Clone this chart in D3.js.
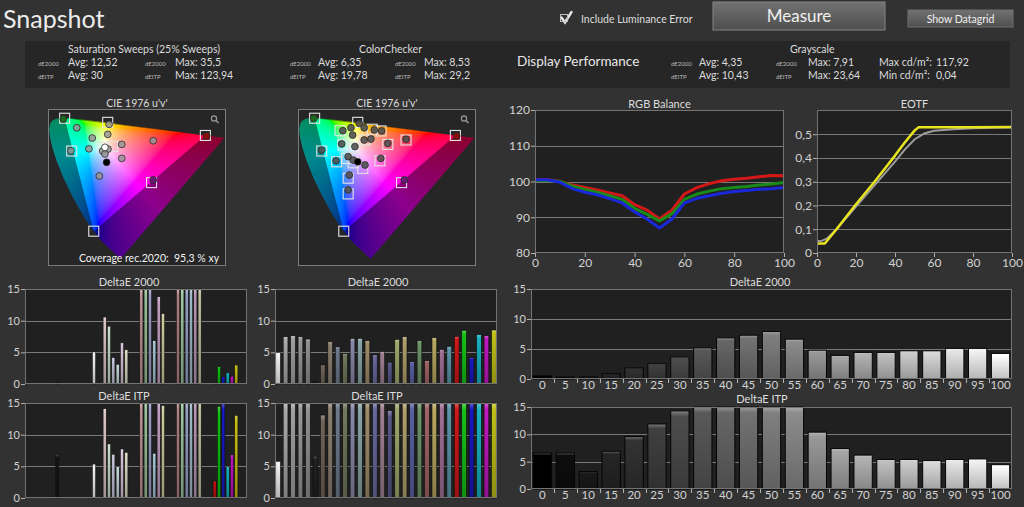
<!DOCTYPE html>
<html><head><meta charset="utf-8">
<script src="https://cdn.jsdelivr.net/npm/d3@7"></script>
<style>
html,body{margin:0;padding:0;background:#323232;overflow:hidden}
svg{display:block}
</style></head><body>
<svg id="c" width="1024" height="507"></svg>
<script>
// ---------------- DATA ----------------
const satStats = ["12,52", "35,5", "30", "123,94"];
const ccStats = ["6,35", "8,53", "19,78", "29,2"];
const grayStats = ["4,35", "7,91", "10,43", "23,64", "117,92", "0,04"];

// spectral locus CIE1931 xy [nm, x, y]
const locus = [[380,0.1741,0.0050],[390,0.1738,0.0049],[400,0.1733,0.0048],[410,0.1726,0.0048],[420,0.1714,0.0051],[425,0.1703,0.0058],[430,0.1689,0.0069],[435,0.1669,0.0086],[440,0.1644,0.0109],[445,0.1611,0.0138],[450,0.1566,0.0177],[455,0.1510,0.0227],[460,0.1440,0.0297],[465,0.1355,0.0399],[470,0.1241,0.0578],[475,0.1096,0.0868],[480,0.0913,0.1327],[485,0.0687,0.2007],[490,0.0454,0.2950],[495,0.0235,0.4127],[500,0.0082,0.5384],[505,0.0039,0.6548],[510,0.0139,0.7502],[515,0.0389,0.8120],[520,0.0743,0.8338],[525,0.1142,0.8262],[530,0.1547,0.8059],[535,0.1929,0.7816],[540,0.2296,0.7543],[545,0.2658,0.7243],[550,0.3016,0.6923],[555,0.3373,0.6589],[560,0.3731,0.6245],[565,0.4087,0.5896],[570,0.4441,0.5547],[575,0.4788,0.5202],[580,0.5125,0.4866],[585,0.5448,0.4544],[590,0.5752,0.4242],[595,0.6029,0.3965],[600,0.6270,0.3725],[605,0.6482,0.3514],[610,0.6658,0.3340],[620,0.6915,0.3083],[630,0.7079,0.2920],[640,0.7190,0.2809],[660,0.7300,0.2700],[700,0.7347,0.2653]];
const rec2020U = [0.5566, 0.0556, 0.1593];
const rec2020V = [0.5165, 0.5868, 0.1258];

// Saturation sweep chromaticity (u'v')
const satTargetU = [0.0556, 0.209, 0.081, 0.193, 0.227, 0.5566, 0.365, 0.1593];
const satTargetV = [0.5868, 0.570, 0.453, 0.468, 0.471, 0.5165, 0.324, 0.1258];
const satMeasU = [0.051,0.099,0.214,0.209,0.154,0.142,0.078,0.191,0.210,0.199,0.259,0.259,0.205,0.179,0.371,0.561,0.371,0.199];
const satMeasV = [0.584,0.548,0.562,0.521,0.506,0.462,0.454,0.453,0.461,0.441,0.480,0.423,0.407,0.351,0.495,0.514,0.335,0.468];
const satMeasKind = ["green","gray","gray","gray","gray","gray","gray","gray","gray","gray","gray","gray","black","gray","gray","red","magenta","white"];

// ColorChecker chromaticity (u'v')
const ccTargetU = [0.0556,0.209,0.146,0.261,0.292,0.156,0.235,0.316,0.381,0.5566,0.081,0.134,0.170,0.193,0.227,0.288,0.175,0.175,0.365,0.1593,0.197];
const ccTargetV = [0.5868,0.570,0.536,0.542,0.535,0.478,0.498,0.480,0.498,0.5165,0.453,0.409,0.423,0.405,0.382,0.413,0.342,0.278,0.324,0.1258,0.467];
const ccMeasU = [0.053,0.214,0.156,0.185,0.232,0.268,0.294,0.191,0.232,0.256,0.152,0.199,0.316,0.381,0.561,0.081,0.132,0.175,0.193,0.209,0.235,0.291,0.179,0.175,0.375];
const ccMeasV = [0.587,0.566,0.536,0.548,0.548,0.539,0.535,0.518,0.498,0.502,0.482,0.471,0.484,0.501,0.514,0.457,0.413,0.430,0.416,0.409,0.396,0.423,0.355,0.294,0.335];
const ccMeasKind = ["green","gray","gray","gray","gray","gray","gray","gray","gray","gray","gray","gray","gray","gray","red","gray","gray","gray","gray","black","gray","gray","gray","gray","magenta"];

// RGB balance
const rgbX = [0,5,10,15,20,25,30,35,40,45,50,55,60,65,70,75,80,85,90,95,100];
const rgbRed   = [100.5,100.5,100,99,98.3,97.6,96.8,96,93.5,92,89.5,92,96.5,98.3,99.4,100.2,100.6,100.9,101.3,101.7,101.6];
const rgbGreen = [100.3,100.3,100,98.7,97.8,97,96,95,92.5,90.8,89,91,95,96.5,97.3,98,98.3,98.6,99,99.3,99.7];
const rgbBlue  = [100.5,100.5,99.8,98,97,96.3,95.2,94,91.5,89.5,87,89.5,94,95.3,96,96.7,97.2,97.5,97.8,98,98.3];

// EOTF
const eotfTargetX = [0,2,5,10,20,30,40,45,50,55,60,70,80,90,100];
const eotfTarget  = [0.05,0.05,0.06,0.10,0.195,0.29,0.385,0.435,0.478,0.503,0.515,0.521,0.525,0.527,0.528];
const eotfMeasX = [0,4,10,20,30,40,45,50,52,60,80,100];
const eotfMeas  = [0.04,0.04,0.10,0.205,0.305,0.41,0.465,0.515,0.529,0.529,0.529,0.53];

// Saturation sweep bars
const satGroups = ["Black","White","25%","50%","75%","100%"];
const satSlots = ["R","G","B","C","M","Y","W"];
const satGroup = ["Black","White","25%","25%","25%","25%","25%","25%","50%","50%","50%","50%","50%","50%","75%","75%","75%","75%","75%","75%","100%","100%","100%","100%","100%","100%"];
const satSlot  = ["W","W","R","G","B","C","M","Y","R","G","B","C","M","Y","R","G","B","C","M","Y","R","G","B","C","M","Y"];
const satPatch = ["#151515","#f4f4f4","#dcc4c4","#c8dcc8","#c4c4dc","#c4d8dc","#d8c4d8","#dcdcc4","#c09494","#9cc49c","#9c9cc8","#a4c4d0","#c4a0c4","#cccc9c","#b08080","#a0c8a0","#98a0c8","#a0b8c8","#b898b8","#c0c0a0","#c81010","#10c010","#1818c8","#10b0c0","#c010c0","#c8c010"];
const satDE2000 = [0.27,5.07,10.57,9.13,4.16,3.1,6.5,5.4,22,18,25,6.83,13.77,11.1,35.5,30,33,20,28,27.1,0.2,2.72,1.12,1.76,1.23,2.99];
const satITP    = [6.9,5.35,14.1,8.53,6.9,4.93,7.74,7.2,45,38,60,7.05,16,14.6,123.94,95,110,70,88,80,2.65,14.47,20,4.93,6.8,13.04];

// ColorChecker bars
const ccPatch = ["#f2f2f2","#a8a8a8","#a0a0a0","#989898","#909090","#202020","#6e6458","#8c8070","#6c7a8c","#70785c","#8888a8","#88a4a4","#a08c68","#68689c","#a08090","#585888","#a0a86c","#b0a06c","#5860a0","#6c9468","#a06464","#b8a860","#a07094","#5c94a8","#d01818","#18c018","#1818c0","#18b0c0","#c018c0","#c0c018"];
const ccDE2000 = [5.0,7.47,7.63,7.47,7.1,0.43,3.0,6.67,5.87,4.8,7.2,7.2,6.83,4.6,5.13,3.42,7.05,7.47,3.52,6.83,3.68,7.31,5.45,5.93,7.53,8.49,4.16,7.8,7.63,8.53];
const ccITP    = [5.8,22,23,21,19.5,6.6,13.1,24,21,17,26,20,23,19,22,13.8,25,27,18,21,20,29.2,22,19,16,28,24,18,25,27];

// Grayscale bars
const grayLevels = [0,5,10,15,20,25,30,35,40,45,50,55,60,65,70,75,80,85,90,95,100];
const grayDE2000 = [0.55,0.33,0.33,0.9,1.83,2.55,3.65,5.2,6.86,7.3,7.91,6.64,4.8,3.93,4.43,4.43,4.7,4.7,5.1,5.1,4.26];
const grayITP    = [6.6,6.6,3.2,6.9,9.6,11.9,14.3,17.5,21,23.64,22.5,18,10.4,7.4,6.2,5.4,5.4,5.2,5.4,5.5,4.45];

const deTicks = [0,5,10,15];
const rgbYTicks = [80,90,100,110,120];
const pctTicks = [0,20,40,60,80,100];
const eotfTicks = [0,0.1,0.2,0.3,0.4,0.5];

// ---------------- DRAW ----------------
const FONT = "Lato, 'Noto Sans', 'DejaVu Sans', sans-serif";
const svg = d3.select("#c").attr("font-family", FONT);
const defs = svg.append("defs");
svg.append("rect").attr("width",1024).attr("height",507).attr("fill","#323232");

function txt(x,y,s,size,fill,anchor){
  return svg.append("text").attr("x",x).attr("y",y).attr("font-size",size)
    .attr("fill",fill||"#dcdcdc").attr("text-anchor",anchor||"start")
    .style("white-space","pre").text(s);
}
const commaFmt = d => d === 0 ? "0" : d3.format(".1f")(d).replace(".", ",");

// header
txt(3,28,"Snapshot",25,"#ececec");
svg.append("path").attr("d","M561.5,17.5 L565,22.5 L571.5,12").attr("fill","none").attr("stroke","#e6e6e6").attr("stroke-width",2.4).attr("stroke-linecap","round");
svg.append("rect").attr("x",560.5).attr("y",14.5).attr("width",7).attr("height",7).attr("fill","none").attr("stroke","#bdbdbd").attr("stroke-width",1);
txt(581,23,"Include Luminance Error",10.5,"#dddddd");
const bg1 = defs.append("linearGradient").attr("id","btn").attr("x1",0).attr("y1",0).attr("x2",0).attr("y2",1);
bg1.append("stop").attr("offset","0%").attr("stop-color","#727272");
bg1.append("stop").attr("offset","100%").attr("stop-color","#4e4e4e");
svg.append("rect").attr("x",713).attr("y",2).attr("width",172).attr("height",28).attr("fill","url(#btn)").attr("stroke","#858585");
txt(799,22,"Measure",17,"#f0f0f0","middle");
svg.append("rect").attr("x",908).attr("y",10).attr("width",105).attr("height",17).attr("fill","url(#btn)").attr("stroke","#707070");
txt(960.5,22.5,"Show Datagrid",10.5,"#f0f0f0","middle");

// stats panel
svg.append("rect").attr("x",25).attr("y",41).attr("width",985).attr("height",47).attr("fill","#262626");
const sm = 6, md = 10.5, r1 = 66, r2 = 79;
txt(68,53,"Saturation Sweeps (25% Sweeps)",md);
txt(38,r1,"dE2000",sm,"#bbb"); txt(68,r1,"Avg: "+satStats[0],md); txt(145,r1,"dE2000",sm,"#bbb"); txt(175,r1,"Max: "+satStats[1],md);
txt(38,r2,"dEITP",sm,"#bbb"); txt(68,r2,"Avg: "+satStats[2],md); txt(145,r2,"dEITP",sm,"#bbb"); txt(175,r2,"Max: "+satStats[3],md);
txt(359,53,"ColorChecker",md);
txt(290,r1,"dE2000",sm,"#bbb"); txt(318,r1,"Avg: "+ccStats[0],md); txt(395,r1,"dE2000",sm,"#bbb"); txt(424,r1,"Max: "+ccStats[1],md);
txt(290,r2,"dEITP",sm,"#bbb"); txt(318,r2,"Avg: "+ccStats[2],md); txt(395,r2,"dEITP",sm,"#bbb"); txt(424,r2,"Max: "+ccStats[3],md);
txt(517,65.5,"Display Performance",13.5,"#e8e8e8");
txt(790,53,"Grayscale",md);
txt(671,r1,"dE2000",sm,"#bbb"); txt(699,r1,"Avg: "+grayStats[0],md); txt(776,r1,"dE2000",sm,"#bbb"); txt(808,r1,"Max: "+grayStats[1],md);
txt(671,r2,"dEITP",sm,"#bbb"); txt(699,r2,"Avg: "+grayStats[2],md); txt(776,r2,"dEITP",sm,"#bbb"); txt(808,r2,"Max: "+grayStats[3],md);
txt(879,r1,"Max cd/m²:",md); txt(936,r1,grayStats[4],md);
txt(879,r2,"Min cd/m²:",md); txt(936,r2,grayStats[5],md);

// ---------- CIE diagrams ----------
function toUV(x,y){ const d = -2*x + 12*y + 3; return [4*x/d, 9*y/d]; }
const locusUV = locus.map(d => toUV(d[1], d[2]));
function uvColor(up, vp){
  const d = 6*up - 16*vp + 12;
  const x = 9*up/d; let y = 4*vp/d; if (y < 1e-4) y = 1e-4;
  const X = x/y, Y = 1, Z = (1-x-y)/y;
  let r = 3.2406*X - 1.5372*Y - 0.4986*Z;
  let g = -0.9689*X + 1.8758*Y + 0.0415*Z;
  let b = 0.0557*X - 0.2040*Y + 1.0570*Z;
  const m = Math.min(r,g,b); if (m < 0){ r -= m; g -= m; b -= m; }
  const M = Math.max(r,g,b) || 1; r/=M; g/=M; b/=M;
  const gm = c => c <= 0.0031308 ? 12.92*c : 1.055*Math.pow(c,1/2.4) - 0.055;
  return [gm(r)*255, gm(g)*255, gm(b)*255];
}
const kindFill = {gray:null, green:"#1d6a1d", red:"#8a0c0c", magenta:"#6c1a78", white:"#ffffff", black:"#000000"};

function drawCIE(ox, id, tU, tV, mU, mV, mKind, grayFill, coverage){
  const bx = ox, by = 109, bw = 178, bh = 157;
  const u = d3.scaleLinear().domain([0, 0.63]).range([ox+1, ox+178]);
  const v = d3.scaleLinear().domain([-0.0163, 0.6245]).range([266, 109]);
  txt(bx + bw/2, 106.5, "CIE 1976 u'v'", 10.5, "#dddddd", "middle");
  svg.append("rect").attr("x",bx).attr("y",by).attr("width",bw).attr("height",bh).attr("fill","#262626");
  const cv = document.createElement("canvas"); cv.width = bw; cv.height = bh;
  const ctx = cv.getContext("2d"); const img = ctx.createImageData(bw, bh);
  for (let j=0;j<bh;j++) for (let i=0;i<bw;i++){
    const c = uvColor(u.invert(bx+i+0.5), v.invert(by+j+0.5));
    const k = (j*bw+i)*4; img.data[k]=c[0]; img.data[k+1]=c[1]; img.data[k+2]=c[2]; img.data[k+3]=255;
  }
  ctx.putImageData(img,0,0);
  const line = d3.line().x(d=>u(d[0])).y(d=>v(d[1]));
  const locusPath = line(locusUV) + "Z";
  const triPath = line(rec2020U.map((d,i)=>[d, rec2020V[i]])) + "Z";
  defs.append("clipPath").attr("id","clip"+id).append("path").attr("d",locusPath);
  svg.append("image").attr("x",bx).attr("y",by).attr("width",bw).attr("height",bh)
    .attr("href", cv.toDataURL()).attr("clip-path","url(#clip"+id+")");
  svg.append("path").attr("d", locusPath + triPath).attr("fill-rule","evenodd").attr("fill","#000").attr("opacity",0.45);
  svg.append("rect").attr("x",bx+0.5).attr("y",by+0.5).attr("width",bw-1).attr("height",bh-1).attr("fill","none").attr("stroke","#7c7c7c");
  svg.append("circle").attr("cx",bx+166).attr("cy",118.5).attr("r",2.6).attr("fill","none").attr("stroke","#9a9a9a").attr("stroke-width",1.2);
  svg.append("line").attr("x1",bx+168).attr("y1",120.5).attr("x2",bx+170.5).attr("y2",123).attr("stroke","#9a9a9a").attr("stroke-width",1.5);
  svg.append("g").selectAll("rect").data(tU).join("rect")
    .attr("x",(d,i)=>u(d)-5).attr("y",(d,i)=>v(tV[i])-5).attr("width",10).attr("height",10)
    .attr("fill","none").attr("stroke","#e4e4e4").attr("stroke-width",1.1);
  svg.append("g").selectAll("circle").data(mU).join("circle")
    .attr("cx",d=>u(d)).attr("cy",(d,i)=>v(mV[i])).attr("r",3.4)
    .attr("fill",(d,i)=>kindFill[mKind[i]] || grayFill).attr("stroke","#2a2a2a").attr("stroke-width",0.8);
  if (coverage) txt(bx + bw/2 + 12, 262, coverage, 10.5, "#f2f2f2", "middle");
}
drawCIE(48, "L", satTargetU, satTargetV, satMeasU, satMeasV, satMeasKind, "rgba(150,150,150,0.85)", "Coverage rec.2020:  95,3 % xy");
drawCIE(298, "R", ccTargetU, ccTargetV, ccMeasU, ccMeasV, ccMeasKind, "rgba(80,80,80,0.9)", null);

// ---------- helpers for framed plots ----------
function styleAxis(g, size){
  g.attr("font-family", FONT).attr("font-size", size);
  g.select(".domain").remove();
  g.selectAll("line").attr("stroke","#b0b0b0");
  g.selectAll("text").attr("fill","#d2d2d2");
  return g;
}
function frame(x0,y0,x1,y1){
  svg.append("rect").attr("x",x0).attr("y",y0).attr("width",x1-x0).attr("height",y1-y0).attr("fill","#202020");
}
function frameStroke(x0,y0,x1,y1){
  svg.append("rect").attr("x",x0+0.5).attr("y",y0+0.5).attr("width",x1-x0-1).attr("height",y1-y0-1).attr("fill","none").attr("stroke","#737373");
}
function hGrid(y, vals, x0, x1){
  svg.append("g").selectAll("line").data(vals).join("line")
    .attr("x1",x0).attr("x2",x1).attr("y1",d=>Math.round(y(d))+0.5).attr("y2",d=>Math.round(y(d))+0.5)
    .attr("stroke","#7a7a7a").attr("stroke-width",1);
}

// ---------- RGB Balance ----------
{
  const x0=535,x1=784,y0=110,y1=253;
  const x = d3.scaleLinear().domain([0,100]).range([x0,x1]);
  const y = d3.scaleLinear().domain([80,120]).range([y1,y0]);
  frame(x0,y0,x1,y1);
  hGrid(y,[90,100,110],x0,x1);
  txt((x0+x1)/2, 107.5, "RGB Balance", 11, "#dddddd", "middle");
  const ln = d3.line().x((d,i)=>x(rgbX[i])).y(d=>y(d));
  [[rgbRed,"#d41818"],[rgbGreen,"#1a8a1a"],[rgbBlue,"#1a28d8"]].forEach(s=>{
    svg.append("path").attr("d",ln(s[0])).attr("fill","none").attr("stroke",s[1]).attr("stroke-width",3).attr("stroke-linejoin","round");
  });
  frameStroke(x0,y0,x1,y1);
  styleAxis(svg.append("g").attr("transform",`translate(${x0},0)`).call(d3.axisLeft(y).tickValues(rgbYTicks).tickSize(4).tickPadding(1)), 12);
  styleAxis(svg.append("g").attr("transform",`translate(0,${y1})`).call(d3.axisBottom(x).tickValues(pctTicks).tickSize(4).tickPadding(1)), 12);
}

// ---------- EOTF ----------
{
  const x0=817,x1=1012,y0=110,y1=253;
  const x = d3.scaleLinear().domain([0,100]).range([x0,x1]);
  const y = d3.scaleLinear().domain([0,0.602]).range([y1,y0]);
  frame(x0,y0,x1,y1);
  hGrid(y,[0.1,0.2,0.3,0.4,0.5],x0,x1);
  txt((x0+x1)/2, 107.5, "EOTF", 11, "#dddddd", "middle");
  const lt = d3.line().x((d,i)=>x(eotfTargetX[i])).y(d=>y(d));
  const lm = d3.line().x((d,i)=>x(eotfMeasX[i])).y(d=>y(d));
  svg.append("path").attr("d",lt(eotfTarget)).attr("fill","none").attr("stroke","#9c9c9c").attr("stroke-width",2);
  svg.append("path").attr("d",lm(eotfMeas)).attr("fill","none").attr("stroke","#e8e41e").attr("stroke-width",2.5).attr("stroke-linejoin","round");
  frameStroke(x0,y0,x1,y1);
  styleAxis(svg.append("g").attr("transform",`translate(${x0},0)`).call(d3.axisLeft(y).tickValues(eotfTicks).tickSize(4).tickPadding(1).tickFormat(commaFmt)), 12);
  styleAxis(svg.append("g").attr("transform",`translate(0,${y1})`).call(d3.axisBottom(x).tickValues(pctTicks).tickSize(4).tickPadding(1)), 12);
}

// ---------- bar charts ----------
let gradN = 0;
function grad(color){
  const id = "g" + (gradN++);
  const c = d3.rgb(color);
  const g = defs.append("linearGradient").attr("id",id).attr("x1",0).attr("y1",0).attr("x2",0).attr("y2",1);
  g.append("stop").attr("offset","0%").attr("stop-color", d3.interpolateRgb(c,"#ffffff")(0.3));
  g.append("stop").attr("offset","7%").attr("stop-color", c.formatHex());
  g.append("stop").attr("offset","100%").attr("stop-color", c.darker(0.8).formatHex());
  return "url(#"+id+")";
}
function barPanel(x0,x1,y0,y1,title,tx,ty){
  frame(x0,y0,x1,y1);
  const y = d3.scaleLinear().domain([0,15]).range([y1,y0]).clamp(true);
  hGrid(y,[5,10],x0,x1);
  txt(tx, ty, title, 11, "#dddddd", "middle");
  return y;
}
function yAxisDE(x0,y){
  styleAxis(svg.append("g").attr("transform",`translate(${x0},0)`).call(d3.axisLeft(y).tickValues(deTicks).tickSize(4).tickPadding(1)), 11);
}

function satChart(vals, y0, y1, title, ty, tx){
  const x0=25,x1=247;
  const y = barPanel(x0,x1,y0,y1,title,tx,ty);
  const gx = d3.scaleBand().domain(satGroups).range([x0,x1]).paddingInner(0.173).paddingOuter(0.114);
  const sx = d3.scaleBand().domain(satSlots).range([0,gx.bandwidth()]).paddingInner(0.28).paddingOuter(0.14);
  svg.append("g").selectAll("rect").data(vals).join("rect")
    .attr("x",(d,i)=>gx(satGroup[i]) + sx(satSlot[i])).attr("width",sx.bandwidth())
    .attr("y",d=>y(d)).attr("height",d=>y1 - y(d))
    .attr("fill",(d,i)=>grad(satPatch[i])).attr("stroke","#0c0c0c").attr("stroke-width",0.5);
  frameStroke(x0,y0,x1,y1);
  yAxisDE(x0,y);
}
satChart(satDE2000, 289, 384, "DeltaE 2000", 285.5, 129);
satChart(satITP, 403, 498, "DeltaE ITP", 400, 124);

function ccChart(vals, y0, y1, title, ty, tx){
  const x0=275,x1=497;
  const y = barPanel(x0,x1,y0,y1,title,tx,ty);
  const bx = d3.scaleBand().domain(d3.range(vals.length)).range([x0,x1]).paddingInner(0.36).paddingOuter(0.1);
  svg.append("g").selectAll("rect").data(vals).join("rect")
    .attr("x",(d,i)=>bx(i)).attr("width",bx.bandwidth())
    .attr("y",d=>y(d)).attr("height",d=>y1 - y(d))
    .attr("fill",(d,i)=>grad(ccPatch[i])).attr("stroke","#0c0c0c").attr("stroke-width",0.6);
  frameStroke(x0,y0,x1,y1);
  yAxisDE(x0,y);
}
ccChart(ccDE2000, 289, 384, "DeltaE 2000", 285.5, 378);
ccChart(ccITP, 403, 498, "DeltaE ITP", 400, 377);

function grayChart(vals, y0, y1, title, ty, tx){
  const x0=531,x1=1012;
  const y = barPanel(x0,x1,y0,y1,title,tx,ty);
  const bx = d3.scaleBand().domain(grayLevels).range([x0,x1]).paddingInner(0.2).paddingOuter(0.1);
  const shade = d3.scaleLinear().domain([0,100]).range(["#000000","#ffffff"]);
  svg.append("g").selectAll("rect").data(vals).join("rect")
    .attr("x",(d,i)=>bx(grayLevels[i])).attr("width",bx.bandwidth())
    .attr("y",d=>y(d)).attr("height",d=>y1 - y(d))
    .attr("fill",(d,i)=>grad(shade(grayLevels[i]))).attr("stroke","#050505").attr("stroke-width",1);
  frameStroke(x0,y0,x1,y1);
  yAxisDE(x0,y);
  const gap = bx.step() - bx.bandwidth();
  svg.append("g").selectAll("line").data(grayLevels.slice(1)).join("line")
    .attr("x1",d=>Math.round(bx(d) - gap/2)+0.5).attr("x2",d=>Math.round(bx(d) - gap/2)+0.5)
    .attr("y1",y1).attr("y2",y1+4).attr("stroke","#b0b0b0");
  const ax = svg.append("g").attr("transform",`translate(0,${y1})`).call(d3.axisBottom(bx).tickSize(0).tickPadding(2));
  styleAxis(ax, 11.5);
}
grayChart(grayDE2000, 289, 379, "DeltaE 2000", 285.5, 760);
grayChart(grayITP, 407, 489, "DeltaE ITP", 403, 762);
</script>
</body></html>
